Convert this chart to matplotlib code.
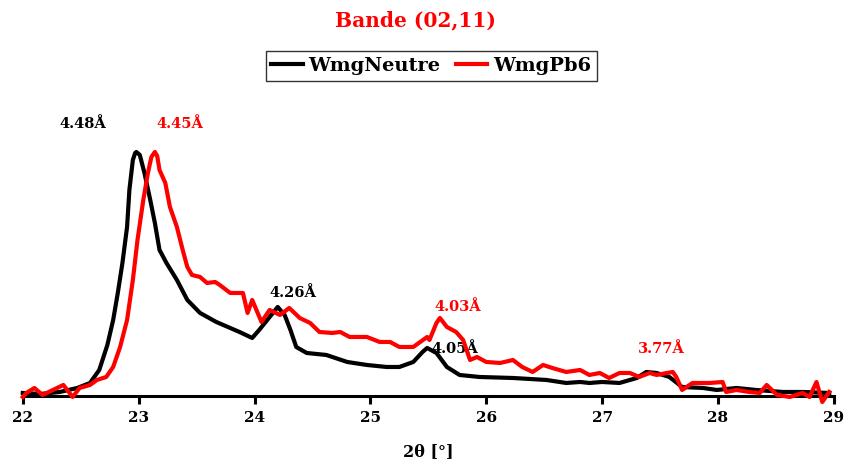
import matplotlib.pyplot as plt
import numpy as np

# 2theta (deg) and intensity (a.u.)
theta_neutre = [22.00, 22.15, 22.32, 22.47, 22.58, 22.66, 22.73, 22.78, 22.82, 22.86,
                22.90, 22.92, 22.95, 22.97, 22.98, 23.01, 23.05, 23.10, 23.14, 23.18,
                23.24, 23.33, 23.42, 23.53, 23.67, 23.79, 23.87, 23.98, 24.04, 24.11,
                24.20, 24.26, 24.31, 24.36, 24.45, 24.62, 24.80, 24.97, 25.14, 25.25,
                25.37, 25.45, 25.49, 25.57, 25.66, 25.77, 25.94, 26.23, 26.52, 26.69,
                26.81, 26.89, 27.00, 27.15, 27.30, 27.38, 27.47, 27.58, 27.69, 27.87,
                27.99, 28.16, 28.33, 28.56, 28.73, 28.96]
int_neutre = [3, 2, 4, 8, 13, 26, 51, 76, 103, 133,
              169, 206, 236, 243, 244, 241, 223, 196, 173, 146,
              133, 116, 96, 83, 74, 68, 64, 58, 66, 76,
              89, 81, 66, 49, 43, 41, 34, 31, 29, 29,
              34, 44, 48, 43, 29, 21, 19, 18, 16, 13,
              14, 13, 14, 13, 18, 24, 23, 19, 9, 8,
              6, 8, 6, 4, 4, 3]

theta_pb6 = [22.00, 22.03, 22.10, 22.17, 22.26, 22.35, 22.43, 22.49, 22.58, 22.64,
             22.72, 22.78, 22.84, 22.90, 22.95, 22.99, 23.04, 23.08, 23.11, 23.14,
             23.16, 23.18, 23.23, 23.27, 23.33, 23.38, 23.42, 23.46, 23.53, 23.59,
             23.66, 23.70, 23.79, 23.90, 23.94, 23.98, 24.06, 24.13, 24.22, 24.30,
             24.39, 24.48, 24.56, 24.67, 24.74, 24.82, 24.97, 25.08, 25.17, 25.25,
             25.37, 25.49, 25.51, 25.57, 25.60, 25.66, 25.74, 25.80, 25.86, 25.92,
             26.00, 26.12, 26.23, 26.31, 26.40, 26.49, 26.57, 26.69, 26.81, 26.89,
             26.98, 27.06, 27.15, 27.24, 27.32, 27.41, 27.47, 27.56, 27.61, 27.64,
             27.69, 27.78, 27.93, 28.04, 28.07, 28.16, 28.27, 28.36, 28.42, 28.51,
             28.62, 28.73, 28.79, 28.85, 28.90, 28.96]
int_pb6 = [-1, 3, 8, 1, 6, 11, -1, 8, 11, 16,
           19, 29, 49, 76, 116, 156, 196, 223, 239, 244,
           240, 226, 213, 189, 169, 146, 129, 121, 119, 113,
           114, 111, 103, 103, 83, 96, 74, 86, 81, 88,
           78, 73, 64, 63, 64, 59, 59, 54, 54, 49,
           49, 59, 56, 73, 78, 69, 64, 56, 36, 39,
           34, 33, 36, 29, 24, 31, 28, 24, 26, 21,
           23, 18, 23, 23, 19, 23, 21, 23, 24, 19,
           6, 13, 13, 14, 4, 6, 4, 3, 11, 1,
           -1, 3, -1, 14, -6, 4]

# peak labels: text, x, y, colour
peak_text = ['4.48Å', '4.45Å', '4.26Å', '4.03Å', '4.05Å', '3.77Å']
peak_x = [22.52, 23.36, 24.33, 25.75, 25.73, 27.51]
peak_y = [272, 272, 103, 89, 47, 47]
peak_col = ['black', 'red', 'black', 'red', 'black', 'red']

plt.rcParams['font.family'] = ['DejaVu Serif']
plt.rcParams['font.weight'] = 'bold'

fig = plt.figure(figsize=(8.44, 4.68), dpi=100)
ax = fig.add_axes([0.027, 0.1368, 0.961, 0.6496])

ax.plot(theta_neutre, int_neutre, color='black', lw=3, label='WmgNeutre', clip_on=False, zorder=3)
ax.plot(theta_pb6, int_pb6, color='red', lw=3, label='WmgPb6', clip_on=False, zorder=3)

for t, x, y, c in zip(peak_text, peak_x, peak_y, peak_col):
    ax.text(x, y, t, color=c, fontsize=10.5, fontweight='bold', ha='center', va='center', zorder=1)

ax.set_xlim(22, 29)
ax.set_ylim(-8, 296)
ax.set_xticks(np.arange(22, 30, 1))
ax.spines['bottom'].set_position(('data', 0))
ax.spines['bottom'].set_linewidth(2.2)
for s in ['top', 'right', 'left']:
    ax.spines[s].set_visible(False)
ax.set_yticks([])
ax.tick_params(axis='x', direction='out', length=6, width=2.2, labelsize=11, pad=5)
ax.set_xlabel('2θ [°]', fontsize=11.5, fontweight='bold', labelpad=13)

fig.text(0.492, 0.957, 'Bande (02,11)', color='red', fontsize=14.5, fontweight='bold',
         ha='center', va='center')
leg = fig.legend(loc='center', bbox_to_anchor=(0.511, 0.859), ncol=2, fancybox=False,
                 edgecolor='black', handlelength=1.6, handletextpad=0.3,
                 columnspacing=0.8, borderpad=0.3, prop={'weight': 'bold', 'size': 14})
leg.get_frame().set_linewidth(1.0)

plt.savefig('out.png', dpi=100)
